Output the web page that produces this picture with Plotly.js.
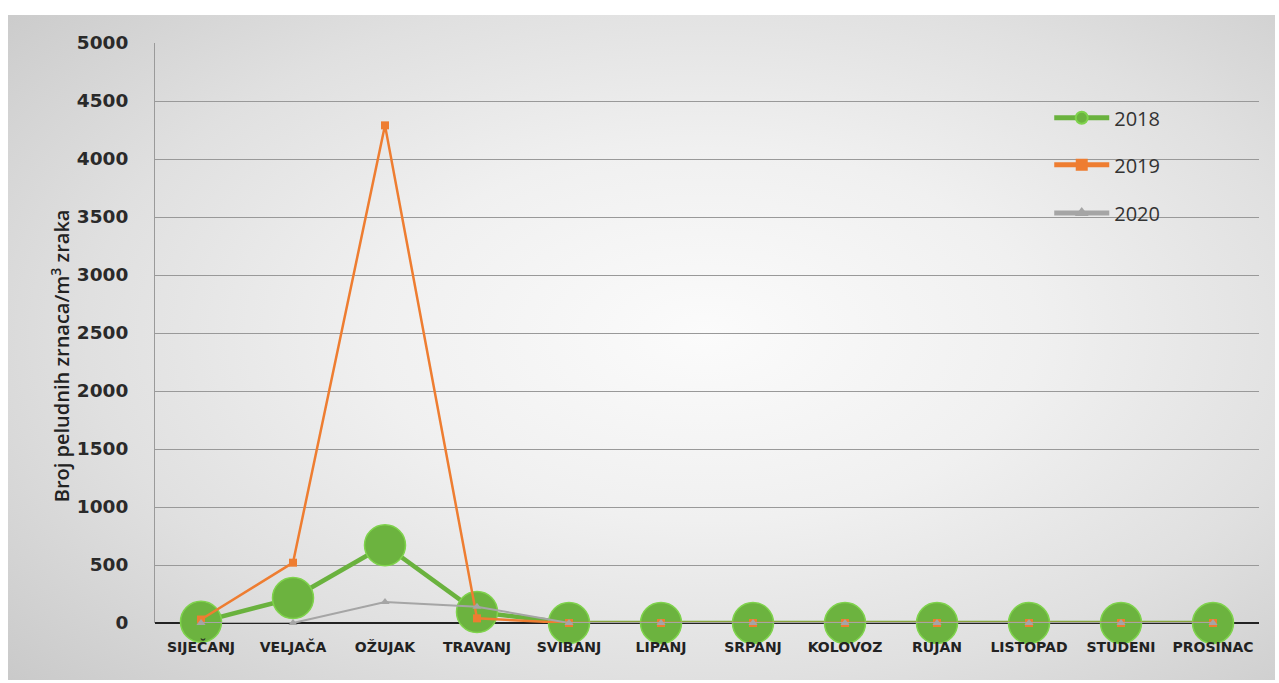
<!DOCTYPE html>
<html>
<head>
<meta charset="utf-8">
<script src="https://cdn.plot.ly/plotly-3.0.1.min.js"></script>
<style>
  html, body { margin: 0; padding: 0; background: #ffffff; }
  #bg { position: absolute; left: 8px; top: 15px; width: 1267px; height: 665px;
        background: radial-gradient(ellipse 75% 80% at 55% 48%, #fbfbfb 0%, #f0f0f0 35%, #e0e0e0 65%, #c8c8c8 100%); }
  #chart { position: absolute; left: 0; top: 0; width: 1279px; height: 683px; }
</style>
</head>
<body>
<div id="bg"></div>
<div id="chart"></div>
<script>
const months = ["SIJEČANJ","VELJAČA","OŽUJAK","TRAVANJ","SVIBANJ","LIPANJ","SRPANJ","KOLOVOZ","RUJAN","LISTOPAD","STUDENI","PROSINAC"];
const y2018 = [10, 215, 670, 95, 0, 0, 0, 0, 0, 0, 0, 0];
const y2019 = [30, 520, 4290, 40, 0, 0, 0, 0, 0, 0, 0, 0];
const y2020 = [0, 0, 180, 140, 0, 0, 0, 0, 0, 0, 0, 0];
const yTicks = [0, 500, 1000, 1500, 2000, 2500, 3000, 3500, 4000, 4500, 5000];
const yTitle = "Broj peludnih zrnaca/m<sup>3</sup> zraka";

const traces = [
  { x: months, y: y2018, name: "2018", type: "scatter", mode: "lines+markers", legend: "legend",
    line: { color: "#6ab23e", width: 4.5 },
    marker: { symbol: "circle", size: 41, color: "#6cb33f", line: { color: "#7fd34c", width: 1.5 } },
    cliponaxis: false },
  { x: months, y: y2019, name: "2019", type: "scatter", mode: "lines+markers", legend: "legend2",
    line: { color: "#ee7d31", width: 2.5 },
    marker: { symbol: "square", size: 8, color: "#ee7d31" },
    cliponaxis: false },
  { x: months, y: y2020, name: "2020", type: "scatter", mode: "lines+markers", legend: "legend3",
    line: { color: "#a5a5a5", width: 2 },
    marker: { symbol: "triangle-up", size: 8, color: "#a5a5a5" },
    cliponaxis: false }
];

function leg(y) {
  return { x: 0.81, y: y, xanchor: "left", yanchor: "middle", bgcolor: "rgba(0,0,0,0)",
           font: { family: "Open Sans, DejaVu Sans, sans-serif", size: 20, color: "#333333" },
           itemsizing: "constant", itemwidth: 55 };
}

const layout = {
  width: 1279, height: 683,
  margin: { l: 155, r: 20, t: 43, b: 60 },
  paper_bgcolor: "rgba(0,0,0,0)",
  plot_bgcolor: "rgba(0,0,0,0)",
  showlegend: true,
  legend: leg(0.871),
  legend2: leg(0.79),
  legend3: leg(0.707),
  xaxis: {
    type: "category",
    range: [-0.5, 11.5],
    tickfont: { family: "DejaVu Sans, sans-serif", size: 14, color: "#222222", weight: "bold" },
    showgrid: false, zeroline: false, showline: false, ticks: "", ticklen: 0,
    ticklabelstandoff: 14,
    automargin: false
  },
  yaxis: {
    range: [0, 5000],
    tickvals: yTicks,
    ticktext: yTicks.map(String),
    tickfont: { family: "DejaVu Sans, sans-serif", size: 18.5, color: "#2a2a2a", weight: "bold" },
    gridcolor: "#999999", gridwidth: 1,
    zeroline: true, zerolinecolor: "#222222", zerolinewidth: 2,
    showline: true, linecolor: "#9a9a9a", linewidth: 1,
    ticks: "", ticklabelstandoff: 22,
    automargin: false
  },
  annotations: [{
    text: yTitle, textangle: -90, showarrow: false,
    xref: "paper", yref: "paper", x: -0.086, y: 0.46, xanchor: "center", yanchor: "middle",
    font: { family: "Open Sans, DejaVu Sans, sans-serif", size: 20, color: "#222222", weight: 600 }
  }]
};

Plotly.newPlot("chart", traces, layout, { displayModeBar: false, staticPlot: true });
</script>
</body>
</html>
